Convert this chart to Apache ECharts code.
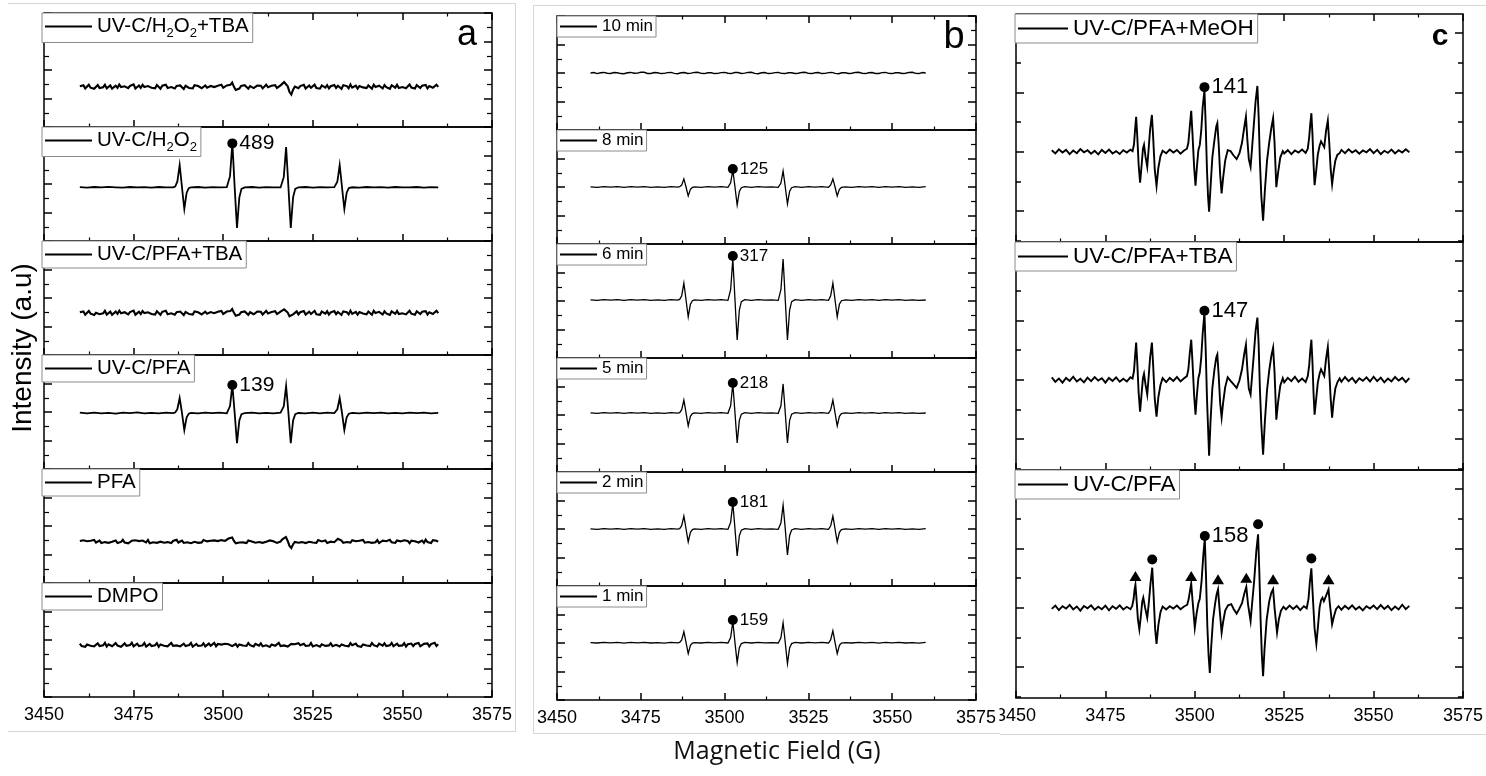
<!DOCTYPE html>
<html><head><meta charset="utf-8">
<script src="https://cdn.jsdelivr.net/npm/echarts@6/dist/echarts.min.js"></script>
<style>html,body{margin:0;padding:0;background:#fff}#chart{width:1486px;height:776px}</style>
</head><body><div id="chart"></div>
<script>
// ---------- tick labels / names ----------
const FIELD_TICKS = [3450, 3475, 3500, 3525, 3550, 3575];
const labelsA = ['UV-C/H_2O_2+TBA', 'UV-C/H_2O_2', 'UV-C/PFA+TBA', 'UV-C/PFA', 'PFA', 'DMPO'];
const labelsB = ['10 min', '8 min', '6 min', '5 min', '2 min', '1 min'];
const labelsC = ['UV-C/PFA+MeOH', 'UV-C/PFA+TBA', 'UV-C/PFA'];
const panelLetters = ['a', 'b', 'c'];
const xTitle = 'Magnetic Field (G)';
const yTitle = 'Intensity (a.u)';

// ---------- sweep fields (G) of the noisy traces (0.5 G steps) ----------
const sweepField = [3460,3460.5,3461,3461.5,3462,3462.5,3463,3463.5,3464,3464.5,3465,3465.5,3466,3466.5,3467,3467.5,3468,3468.5,3469,3469.5,
3470,3470.5,3471,3471.5,3472,3472.5,3473,3473.5,3474,3474.5,3475,3475.5,3476,3476.5,3477,3477.5,3478,3478.5,3479,3479.5,
3480,3480.5,3481,3481.5,3482,3482.5,3483,3483.5,3484,3484.5,3485,3485.5,3486,3486.5,3487,3487.5,3488,3488.5,3489,3489.5,
3490,3490.5,3491,3491.5,3492,3492.5,3493,3493.5,3494,3494.5,3495,3495.5,3496,3496.5,3497,3497.5,3498,3498.5,3499,3499.5,
3500,3500.5,3501,3501.5,3502,3502.5,3503,3503.5,3504,3504.5,3505,3505.5,3506,3506.5,3507,3507.5,3508,3508.5,3509,3509.5,
3510,3510.5,3511,3511.5,3512,3512.5,3513,3513.5,3514,3514.5,3515,3515.5,3516,3516.5,3517,3517.5,3518,3518.5,3519,3519.5,
3520,3520.5,3521,3521.5,3522,3522.5,3523,3523.5,3524,3524.5,3525,3525.5,3526,3526.5,3527,3527.5,3528,3528.5,3529,3529.5,
3530,3530.5,3531,3531.5,3532,3532.5,3533,3533.5,3534,3534.5,3535,3535.5,3536,3536.5,3537,3537.5,3538,3538.5,3539,3539.5,
3540,3540.5,3541,3541.5,3542,3542.5,3543,3543.5,3544,3544.5,3545,3545.5,3546,3546.5,3547,3547.5,3548,3548.5,3549,3549.5,
3550,3550.5,3551,3551.5,3552,3552.5,3553,3553.5,3554,3554.5,3555,3555.5,3556,3556.5,3557,3557.5,3558,3558.5,3559,3559.5,3560];

// ---------- noisy traces: intensity at each sweepField value ----------
const intensA1 = [2.86,2.74,2.93,2.7,2.84,2.97,2.76,2.89,2.68,2.82,2.95,2.73,2.87,2.79,2.96,2.71,2.85,2.92,2.69,2.83,
2.9,2.75,2.98,2.8,2.67,2.86,2.94,2.72,2.88,2.77,2.99,2.7,2.84,2.91,2.74,2.96,2.81,2.69,2.87,2.93,
2.76,2.85,2.72,2.95,2.83,2.68,2.9,2.78,2.97,2.73,2.86,2.8,2.94,2.7,2.88,2.75,2.92,2.82,2.67,2.89,
2.96,2.74,2.85,2.71,2.93,2.79,2.87,2.98,2.72,2.84,2.91,2.76,2.69,2.88,2.95,2.8,2.73,2.9,2.83,2.97,
2.75,2.86,2.92,2.78,2.96,3.12,2.82,2.6,2.46,2.7,2.88,2.74,2.93,2.8,2.69,2.87,2.95,2.73,2.84,2.91,
2.77,2.9,2.71,2.85,2.97,2.79,2.68,2.89,2.82,2.94,2.74,2.86,2.92,3.0,3.15,3.18,2.85,2.45,2.28,2.62,
2.84,2.93,2.72,2.87,2.78,2.96,2.7,2.83,2.91,2.75,2.88,2.97,2.73,2.81,2.69,2.92,2.85,2.77,2.94,2.71,
2.86,2.79,2.95,2.74,2.89,2.82,2.68,2.93,2.8,2.87,2.72,2.98,2.76,2.84,2.9,2.7,2.88,2.95,2.78,2.83,
2.73,2.92,2.86,2.69,2.97,2.81,2.75,2.9,2.84,2.71,2.94,2.79,2.87,2.68,2.93,2.82,2.76,2.96,2.74,2.88,
2.8,2.91,2.72,2.86,2.98,2.77,2.85,2.7,2.94,2.83,2.74,2.9,2.79,2.95,2.71,2.87,2.92,2.75,2.84,2.97,2.82];
const intensA3 = [3.0,2.87,3.06,2.83,2.97,3.09,2.9,3.02,2.81,2.96,3.07,2.86,2.99,2.92,3.1,2.84,2.98,3.04,2.82,2.95,
3.05,2.89,3.11,2.93,2.8,3.0,3.08,2.85,3.01,2.9,3.12,2.83,2.97,3.04,2.87,3.09,2.94,2.81,3.0,3.06,
2.88,2.99,2.84,3.07,2.96,2.82,3.03,2.91,3.1,2.86,2.98,2.93,3.06,2.83,3.01,2.88,3.05,2.95,2.8,3.02,
3.08,2.87,2.97,2.84,3.06,2.92,3.0,3.11,2.85,2.96,3.04,2.89,2.82,3.01,3.07,2.93,2.86,3.03,2.96,3.09,
2.88,2.99,3.05,2.91,3.08,3.23,2.96,2.75,2.67,2.84,3.0,2.87,3.06,2.93,2.82,3.0,3.08,2.86,2.97,3.04,
2.9,3.03,2.84,2.98,3.1,2.92,2.81,3.02,2.95,3.07,2.87,2.99,3.05,3.1,3.2,3.22,2.98,2.72,2.62,2.85,
2.97,3.06,2.85,3.0,2.91,3.09,2.83,2.96,3.04,2.88,3.01,3.1,2.86,2.94,2.82,3.05,2.98,2.9,3.07,2.84,
2.99,2.92,3.08,2.87,3.02,2.95,2.81,3.06,2.93,3.0,2.85,3.11,2.89,2.97,3.03,2.83,3.01,3.08,2.91,2.96,
2.86,3.05,2.99,2.82,3.1,2.94,2.88,3.03,2.97,2.84,3.07,2.92,3.0,2.81,3.06,2.95,2.89,3.09,2.87,3.01,
2.93,3.04,2.85,2.99,3.11,2.9,2.98,2.83,3.07,2.96,2.87,3.03,2.92,3.08,2.84,3.0,3.05,2.88,2.97,3.1,2.94];
const intensA5 = [2.95,2.83,3.0,2.86,2.93,2.79,2.97,2.88,3.02,2.84,2.91,2.98,2.81,2.94,2.87,3.01,2.82,2.96,2.9,2.85,
2.99,2.8,2.93,2.88,3.03,2.84,2.95,2.78,2.92,2.97,2.83,3.0,2.87,2.94,2.81,2.98,2.89,2.85,3.02,2.79,
2.93,2.86,2.99,2.82,2.96,2.9,3.01,2.83,2.92,2.87,2.98,2.8,2.95,2.88,3.03,2.84,2.91,2.97,2.81,2.94,
2.86,3.0,2.79,2.93,2.89,2.98,2.82,2.96,2.85,3.02,2.88,2.92,2.8,2.97,2.84,2.99,2.87,2.94,2.83,3.01,
2.89,2.95,3.05,3.12,3.18,3.2,2.95,2.78,2.74,2.84,2.97,2.85,2.93,2.8,2.98,2.87,2.92,3.0,2.83,2.95,
2.88,3.01,2.82,2.96,2.9,2.84,2.99,2.86,2.93,3.02,2.81,2.95,2.91,3.06,3.15,3.23,2.95,2.6,2.45,2.72,
2.88,2.97,2.83,2.94,2.87,3.0,2.8,2.93,2.89,2.98,2.84,2.96,2.82,3.01,2.88,2.92,2.85,2.99,2.81,2.95,
2.9,3.03,2.86,2.94,3.1,3.2,2.98,2.82,2.78,2.88,2.97,2.84,3.0,2.87,2.93,2.81,2.96,2.9,3.02,2.83,
2.94,2.88,2.99,2.82,2.95,2.86,3.01,2.8,2.92,2.97,2.84,2.93,2.89,3.03,2.85,2.96,2.81,2.98,2.87,2.92,
2.83,3.0,2.88,2.95,2.79,2.97,2.86,2.93,3.02,2.84,2.91,2.98,2.82,3.04,2.87,2.94,2.81,3.0,2.89,2.96,2.9];
const intensA6 = [3.74,3.57,3.7,3.52,3.68,3.79,3.6,3.73,3.55,3.66,3.77,3.58,3.71,3.63,3.8,3.54,3.69,3.75,3.56,3.67,
3.78,3.61,3.72,3.53,3.66,3.76,3.59,3.7,3.64,3.81,3.55,3.68,3.74,3.57,3.71,3.62,3.79,3.54,3.67,3.73,
3.58,3.7,3.63,3.78,3.52,3.69,3.75,3.6,3.72,3.56,3.67,3.8,3.59,3.71,3.62,3.76,3.55,3.68,3.74,3.57,
3.7,3.64,3.79,3.53,3.67,3.73,3.58,3.71,3.61,3.77,3.55,3.69,3.75,3.6,3.66,3.8,3.56,3.72,3.63,3.68,
3.54,3.74,3.6,3.7,3.78,3.57,3.66,3.72,3.53,3.69,3.76,3.61,3.68,3.58,3.79,3.64,3.71,3.55,3.73,3.67,
3.6,3.77,3.56,3.7,3.63,3.75,3.52,3.69,3.74,3.59,3.66,3.8,3.57,3.71,3.62,3.76,3.54,3.68,3.73,3.6,
3.7,3.56,3.78,3.63,3.67,3.74,3.58,3.72,3.61,3.79,3.55,3.69,3.64,3.76,3.53,3.7,3.75,3.59,3.68,3.62,
3.77,3.57,3.71,3.66,3.8,3.54,3.69,3.73,3.6,3.72,3.56,3.78,3.63,3.67,3.75,3.58,3.71,3.52,3.69,3.76,
3.61,3.68,3.57,3.79,3.64,3.7,3.55,3.74,3.66,3.6,3.77,3.58,3.72,3.63,3.8,3.56,3.69,3.74,3.59,3.71,
3.62,3.78,3.54,3.7,3.67,3.75,3.57,3.72,3.61,3.79,3.56,3.68,3.73,3.6,3.76,3.55,3.71,3.66,3.8,3.58,3.7];

// ---------- spectra with resolved lines: [field (G), intensity] ----------
const specA2 = [[3460,3.78],[3462,3.75],[3464,3.79],[3466,3.76],[3468,3.8],[3470,3.77],[3472,3.74],[3474,3.79],[3476,3.76],[3478,3.78],[3480,3.75],[3482,3.79],[3484,3.77],[3486,3.76],[3486.6,3.82],[3487.2,4.16],[3487.55,4.78],[3487.85,5.33],[3488.15,4.63],[3488.5,3.77],[3488.85,2.93],[3489.15,2.25],[3489.45,2.78],[3489.8,3.39],[3490.4,3.71],[3491,3.76],[3493,3.79],[3495,3.75],[3497,3.78],[3499,3.76],[3501,3.78],[3501.3,3.86],[3501.9,4.55],[3502.25,5.79],[3502.55,6.88],[3502.85,5.48],[3503.2,3.77],[3503.55,2.2],[3503.85,0.91],[3504.15,1.91],[3504.5,3.06],[3505.1,3.66],[3506,3.76],[3508,3.79],[3510,3.75],[3512,3.78],[3514,3.77],[3516,3.76],[3516.3,3.85],[3516.9,4.48],[3517.25,5.61],[3517.55,6.6],[3517.85,5.33],[3518.2,3.77],[3518.55,2.2],[3518.85,0.91],[3519.15,1.91],[3519.5,3.06],[3520.1,3.66],[3521,3.77],[3523,3.79],[3525,3.75],[3527,3.78],[3529,3.76],[3531,3.78],[3531.25,3.82],[3531.85,4.16],[3532.2,4.78],[3532.5,5.33],[3532.8,4.63],[3533.15,3.77],[3533.5,2.93],[3533.8,2.25],[3534.1,2.78],[3534.45,3.39],[3535.05,3.71],[3536,3.77],[3538,3.75],[3540,3.79],[3542,3.76],[3544,3.78],[3546,3.75],[3548,3.79],[3550,3.77],[3552,3.76],[3554,3.79],[3556,3.75],[3558,3.78],[3560,3.76]];
const specA4 = [[3460,3.95],[3462,3.9],[3464,3.96],[3466,3.91],[3468,3.94],[3470,3.89],[3472,3.95],[3474,3.92],[3476,3.97],[3478,3.9],[3480,3.94],[3482,3.91],[3484,3.96],[3486,3.92],[3486.6,3.96],[3487.2,4.19],[3487.55,4.61],[3487.85,4.98],[3488.15,4.51],[3488.5,3.93],[3488.85,3.28],[3489.15,2.74],[3489.45,3.16],[3489.8,3.63],[3490.4,3.88],[3491,3.94],[3493,3.9],[3495,3.95],[3497,3.92],[3499,3.96],[3501,3.91],[3501.3,3.99],[3501.9,4.42],[3502.25,5.2],[3502.55,5.89],[3502.85,5.0],[3503.2,3.93],[3503.55,2.77],[3503.85,1.82],[3504.15,2.56],[3504.5,3.4],[3505.1,3.85],[3506,3.92],[3508,3.96],[3510,3.9],[3512,3.94],[3514,3.91],[3516,3.95],[3516.3,3.99],[3516.9,4.4],[3517.25,5.16],[3517.55,5.82],[3517.85,4.97],[3518.2,3.93],[3518.55,2.77],[3518.85,1.82],[3519.15,2.56],[3519.5,3.4],[3520.1,3.85],[3521,3.93],[3523,3.9],[3525,3.95],[3527,3.91],[3529,3.96],[3531,3.92],[3531.25,3.96],[3531.85,4.19],[3532.2,4.61],[3532.5,4.98],[3532.8,4.51],[3533.15,3.93],[3533.5,3.28],[3533.8,2.74],[3534.1,3.16],[3534.45,3.63],[3535.05,3.88],[3536,3.94],[3538,3.9],[3540,3.95],[3542,3.92],[3544,3.96],[3546,3.91],[3548,3.94],[3550,3.9],[3552,3.95],[3554,3.92],[3556,3.96],[3558,3.91],[3560,3.94]];

const specB1 = [[3460,4.0],[3461,4.03],[3462,3.96],[3463,4.02],[3464,4.04],[3465,3.98],[3466,3.97],[3467,4.03],[3468,4.02],[3469,3.96],[3470,3.95],[3471,4.02],[3472,4.04],[3473,3.98],[3474,3.99],[3475,4.05],[3476,4.05],[3477,3.97],[3478,3.97],[3479,4.03],[3480,4.02],[3481,3.96],[3482,3.97],[3483,4.03],[3484,4.04],[3485,3.97],[3486,3.95],[3487,4.02],[3488,4.03],[3489,3.97],[3490,3.99],[3491,4.04],[3492,4.05],[3493,3.97],[3494,3.96],[3495,4.02],[3496,4.02],[3497,3.96],[3498,3.97],[3499,4.03],[3500,4.04],[3501,3.98],[3502,3.96],[3503,4.03],[3504,4.03],[3505,3.97],[3506,3.99],[3507,4.04],[3508,4.05],[3509,3.97],[3510,3.95],[3511,4.02],[3512,4.03],[3513,3.96],[3514,3.97],[3515,4.03],[3516,4.04],[3517,3.97],[3518,3.96],[3519,4.02],[3520,4.02],[3521,3.97],[3522,3.98],[3523,4.04],[3524,4.05],[3525,3.97],[3526,3.96],[3527,4.02],[3528,4.03],[3529,3.96],[3530,3.97],[3531,4.03],[3532,4.04],[3533,3.97],[3534,3.95],[3535,4.02],[3536,4.02],[3537,3.97],[3538,3.98],[3539,4.04],[3540,4.05],[3541,3.98],[3542,3.96],[3543,4.02],[3544,4.03],[3545,3.97],[3546,3.97],[3547,4.03],[3548,4.04],[3549,3.97],[3550,3.96],[3551,4.02],[3552,4.02],[3553,3.97],[3554,3.98],[3555,4.04],[3556,4.05],[3557,3.97],[3558,3.96],[3559,4.03],[3560,4.0]];
const specB2 = [[3460,4.01],[3462,3.98],[3464,4.03],[3466,3.99],[3468,4.02],[3470,3.97],[3472,4.02],[3474,3.99],[3476,4.03],[3478,3.98],[3480,4.01],[3482,3.97],[3484,4.02],[3486,3.99],[3486.6,4.02],[3487.2,4.14],[3487.55,4.36],[3487.85,4.56],[3488.15,4.31],[3488.5,4.0],[3488.85,3.65],[3489.15,3.37],[3489.45,3.59],[3489.8,3.84],[3490.4,3.97],[3491,4.01],[3493,3.98],[3495,4.03],[3497,3.99],[3499,4.02],[3501,3.98],[3501.2,4.04],[3501.8,4.3],[3502.15,4.77],[3502.45,5.19],[3502.75,4.65],[3503.1,4.0],[3503.45,3.31],[3503.75,2.74],[3504.05,3.18],[3504.4,3.69],[3505.0,3.95],[3506,4.02],[3508,3.98],[3510,4.03],[3512,3.99],[3514,4.01],[3516,3.98],[3516.2,4.03],[3516.8,4.28],[3517.15,4.73],[3517.45,5.12],[3517.75,4.62],[3518.1,4.0],[3518.45,3.35],[3518.75,2.81],[3519.05,3.23],[3519.4,3.7],[3520.0,3.95],[3521,4.02],[3523,3.98],[3525,4.03],[3527,3.99],[3529,4.02],[3531,3.98],[3531.05,4.02],[3531.65,4.14],[3532.0,4.36],[3532.3,4.56],[3532.6,4.31],[3532.95,4.0],[3533.3,3.65],[3533.6,3.37],[3533.9,3.59],[3534.25,3.84],[3534.85,3.97],[3536,4.01],[3538,3.98],[3540,4.03],[3542,3.99],[3544,4.02],[3546,3.97],[3548,4.02],[3550,3.99],[3552,4.03],[3554,3.98],[3556,4.01],[3558,3.97],[3560,4.02]];
const specB3 = [[3460,4.08],[3462,4.05],[3464,4.1],[3466,4.06],[3468,4.09],[3470,4.04],[3472,4.09],[3474,4.06],[3476,4.1],[3478,4.05],[3480,4.08],[3482,4.04],[3484,4.09],[3486,4.06],[3486.6,4.11],[3487.2,4.37],[3487.55,4.84],[3487.85,5.26],[3488.15,4.72],[3488.5,4.07],[3488.85,3.42],[3489.15,2.88],[3489.45,3.3],[3489.8,3.77],[3490.4,4.02],[3491,4.08],[3493,4.05],[3495,4.1],[3497,4.06],[3499,4.09],[3501,4.05],[3501.2,4.16],[3501.8,4.79],[3502.15,5.94],[3502.45,6.95],[3502.75,5.65],[3503.1,4.07],[3503.45,2.52],[3503.75,1.26],[3504.05,2.24],[3504.4,3.37],[3505.0,3.96],[3506,4.09],[3508,4.05],[3510,4.1],[3512,4.06],[3514,4.08],[3516,4.05],[3516.2,4.16],[3516.8,4.79],[3517.15,5.94],[3517.45,6.95],[3517.75,5.65],[3518.1,4.07],[3518.45,2.52],[3518.75,1.26],[3519.05,2.24],[3519.4,3.37],[3520.0,3.96],[3521,4.09],[3523,4.05],[3525,4.1],[3527,4.06],[3529,4.09],[3531,4.05],[3531.05,4.11],[3531.65,4.37],[3532.0,4.84],[3532.3,5.26],[3532.6,4.72],[3532.95,4.07],[3533.3,3.42],[3533.6,2.88],[3533.9,3.3],[3534.25,3.77],[3534.85,4.02],[3536,4.08],[3538,4.05],[3540,4.1],[3542,4.06],[3544,4.09],[3546,4.04],[3548,4.09],[3550,4.06],[3552,4.1],[3554,4.05],[3556,4.08],[3558,4.04],[3560,4.07]];
const specB4 = [[3460,4.15],[3462,4.12],[3464,4.17],[3466,4.13],[3468,4.16],[3470,4.11],[3472,4.16],[3474,4.13],[3476,4.17],[3478,4.12],[3480,4.15],[3482,4.11],[3484,4.16],[3486,4.13],[3486.6,4.17],[3487.2,4.37],[3487.55,4.73],[3487.85,5.05],[3488.15,4.64],[3488.5,4.14],[3488.85,3.64],[3489.15,3.23],[3489.45,3.55],[3489.8,3.91],[3490.4,4.1],[3491,4.15],[3493,4.12],[3495,4.17],[3497,4.13],[3499,4.16],[3501,4.12],[3501.2,4.2],[3501.8,4.65],[3502.15,5.47],[3502.45,6.18],[3502.75,5.26],[3503.1,4.14],[3503.45,2.99],[3503.75,2.04],[3504.05,2.78],[3504.4,3.62],[3505.0,4.06],[3506,4.16],[3508,4.12],[3510,4.17],[3512,4.13],[3514,4.15],[3516,4.12],[3516.2,4.2],[3516.8,4.65],[3517.15,5.47],[3517.45,6.18],[3517.75,5.26],[3518.1,4.14],[3518.45,2.99],[3518.75,2.04],[3519.05,2.78],[3519.4,3.62],[3520.0,4.06],[3521,4.16],[3523,4.12],[3525,4.17],[3527,4.13],[3529,4.16],[3531,4.12],[3531.05,4.17],[3531.65,4.37],[3532.0,4.73],[3532.3,5.05],[3532.6,4.64],[3532.95,4.14],[3533.3,3.64],[3533.6,3.23],[3533.9,3.55],[3534.25,3.91],[3534.85,4.1],[3536,4.15],[3538,4.12],[3540,4.17],[3542,4.13],[3544,4.16],[3546,4.11],[3548,4.16],[3550,4.13],[3552,4.17],[3554,4.12],[3556,4.15],[3558,4.11],[3560,4.14]];
const specB5 = [[3460,4.01],[3462,3.98],[3464,4.03],[3466,3.99],[3468,4.02],[3470,3.97],[3472,4.02],[3474,3.99],[3476,4.03],[3478,3.98],[3480,4.01],[3482,3.97],[3484,4.02],[3486,3.99],[3486.6,4.03],[3487.2,4.23],[3487.55,4.59],[3487.85,4.91],[3488.15,4.5],[3488.5,4.0],[3488.85,3.5],[3489.15,3.09],[3489.45,3.41],[3489.8,3.77],[3490.4,3.96],[3491,4.01],[3493,3.98],[3495,4.03],[3497,3.99],[3499,4.02],[3501,3.98],[3501.2,4.05],[3501.8,4.46],[3502.15,5.18],[3502.45,5.82],[3502.75,5.0],[3503.1,4.0],[3503.45,2.96],[3503.75,2.11],[3504.05,2.77],[3504.4,3.53],[3505.0,3.92],[3506,4.02],[3508,3.98],[3510,4.03],[3512,3.99],[3514,4.01],[3516,3.98],[3516.2,4.05],[3516.8,4.42],[3517.15,5.09],[3517.45,5.68],[3517.75,4.92],[3518.1,4.0],[3518.45,3.0],[3518.75,2.18],[3519.05,2.82],[3519.4,3.55],[3520.0,3.93],[3521,4.02],[3523,3.98],[3525,4.03],[3527,3.99],[3529,4.02],[3531,3.98],[3531.05,4.03],[3531.65,4.23],[3532.0,4.59],[3532.3,4.91],[3532.6,4.5],[3532.95,4.0],[3533.3,3.5],[3533.6,3.09],[3533.9,3.41],[3534.25,3.77],[3534.85,3.96],[3536,4.01],[3538,3.98],[3540,4.03],[3542,3.99],[3544,4.02],[3546,3.97],[3548,4.02],[3550,3.99],[3552,4.03],[3554,3.98],[3556,4.01],[3558,3.97],[3560,4.02]];
const specB6 = [[3460,4.03],[3462,4.0],[3464,4.05],[3466,4.01],[3468,4.04],[3470,3.99],[3472,4.04],[3474,4.01],[3476,4.05],[3478,4.0],[3480,4.03],[3482,3.99],[3484,4.04],[3486,4.01],[3486.6,4.04],[3487.2,4.21],[3487.55,4.52],[3487.85,4.79],[3488.15,4.44],[3488.5,4.02],[3488.85,3.6],[3489.15,3.25],[3489.45,3.52],[3489.8,3.83],[3490.4,3.99],[3491,4.03],[3493,4.0],[3495,4.05],[3497,4.01],[3499,4.04],[3501,4.0],[3501.2,4.06],[3501.8,4.39],[3502.15,4.98],[3502.45,5.49],[3502.75,4.83],[3503.1,4.02],[3503.45,3.25],[3503.75,2.62],[3504.05,3.11],[3504.4,3.67],[3505.0,3.96],[3506,4.04],[3508,4.0],[3510,4.05],[3512,4.01],[3514,4.03],[3516,4.0],[3516.2,4.06],[3516.8,4.37],[3517.15,4.93],[3517.45,5.42],[3517.75,4.79],[3518.1,4.02],[3518.45,3.21],[3518.75,2.55],[3519.05,3.06],[3519.4,3.65],[3520.0,3.96],[3521,4.04],[3523,4.0],[3525,4.05],[3527,4.01],[3529,4.04],[3531,4.0],[3531.05,4.05],[3531.65,4.23],[3532.0,4.57],[3532.3,4.86],[3532.6,4.48],[3532.95,4.02],[3533.3,3.6],[3533.6,3.25],[3533.9,3.52],[3534.25,3.83],[3534.85,3.99],[3536,4.03],[3538,4.0],[3540,4.05],[3542,4.01],[3544,4.04],[3546,3.99],[3548,4.04],[3550,4.01],[3552,4.05],[3554,4.0],[3556,4.03],[3558,3.99],[3560,4.04]];

const specC1 = [[3460,0.05],[3461,-0.06],[3462,0.08],[3463,-0.03],[3464,0.06],[3465,-0.08],[3466,0.04],[3467,-0.05],[3468,0.09],[3469,-0.02],[3470,0.05],[3471,-0.07],[3472,0.03],[3473,-0.09],[3474,0.06],[3475,-0.04],[3476,0.07],[3477,-0.06],[3478,0.02],[3479,-0.08],[3480,0.05],[3481,-0.03],[3482,0.07],[3482.6,0.02],[3483.0,0.25],[3483.3,0.75],[3483.6,1.18],[3483.9,0.55],[3484.3,-0.45],[3484.7,-1.05],[3485.1,-0.5],[3485.5,0.1],[3485.8,0.23],[3486.2,-0.15],[3486.7,-0.51],[3487.1,0.1],[3487.5,0.75],[3488.0,1.24],[3488.35,0.5],[3488.8,-0.6],[3489.3,-1.16],[3489.8,-0.55],[3490.4,-0.15],[3491.0,0.03],[3492,-0.05],[3493,0.07],[3494,-0.03],[3495,0.06],[3496,-0.07],[3497,0.04],[3497.8,0.1],[3498.2,0.3],[3498.6,0.85],[3499.0,1.38],[3499.35,0.6],[3499.8,-0.5],[3500.2,-1.15],[3500.6,-0.5],[3501.0,0.05],[3501.4,0.23],[3501.8,0.7],[3502.2,1.5],[3502.7,2.08],[3503.05,0.9],[3503.4,-0.6],[3503.7,-1.5],[3504.0,-2.03],[3504.4,-1.2],[3504.9,-0.2],[3505.5,0.4],[3506.0,0.85],[3506.3,0.96],[3506.7,0.2],[3507.1,-0.8],[3507.5,-1.41],[3507.9,-0.9],[3508.5,-0.3],[3509.2,0.05],[3510,0.02],[3510.8,-0.12],[3511.7,-0.25],[3512.5,-0.05],[3513.2,0.3],[3513.8,0.8],[3514.3,1.18],[3514.7,0.4],[3515.1,-0.25],[3515.6,-0.51],[3516.0,0.1],[3516.5,0.9],[3517.0,1.7],[3517.5,2.22],[3517.85,1.2],[3518.2,-0.3],[3518.6,-1.5],[3519.1,-2.33],[3519.6,-1.3],[3520.2,-0.3],[3520.8,0.3],[3521.4,0.8],[3521.9,1.13],[3522.3,0.3],[3522.8,-1.2],[3523.3,-0.7],[3523.9,-0.2],[3524.6,0.02],[3525,-0.06],[3526,0.05],[3527,-0.08],[3528,0.04],[3529,-0.03],[3530,0.07],[3531,-0.04],[3531.6,0.1],[3532.0,0.5],[3532.3,0.95],[3532.6,1.3],[3532.9,0.6],[3533.2,-0.4],[3533.5,-1.13],[3533.9,-0.7],[3534.4,-0.1],[3534.9,0.2],[3535.3,0.35],[3535.7,0.4],[3536.2,0.15],[3536.7,0.7],[3537.2,1.05],[3537.6,0.3],[3538.0,-0.6],[3538.4,-1.1],[3538.8,-0.7],[3539.3,-0.3],[3539.9,-0.1],[3540.5,-0.05],[3541,0.06],[3542,-0.05],[3543,0.08],[3544,-0.03],[3545,0.05],[3546,-0.07],[3547,0.04],[3548,-0.02],[3549,0.09],[3550,-0.05],[3551,0.06],[3552,-0.08],[3553,0.03],[3554,-0.04],[3555,0.07],[3556,-0.06],[3557,0.05],[3558,-0.03],[3559,0.08],[3560,-0.02]];
const specC2 = [[3460,0.08],[3461,-0.07],[3462,0.04],[3463,-0.1],[3464,0.06],[3465,-0.04],[3466,0.1],[3467,-0.06],[3468,0.03],[3469,-0.09],[3470,0.07],[3471,-0.05],[3472,0.09],[3473,-0.03],[3474,0.05],[3475,-0.1],[3476,0.06],[3477,-0.04],[3478,0.08],[3479,-0.07],[3480,0.03],[3481,-0.06],[3482,0.08],[3482.6,0.04],[3483.0,0.3],[3483.3,0.8],[3483.6,1.25],[3483.9,0.6],[3484.3,-0.45],[3484.7,-1.08],[3485.1,-0.5],[3485.5,0.05],[3485.8,0.2],[3486.2,-0.15],[3486.7,-0.5],[3487.1,0.1],[3487.5,0.75],[3488.0,1.25],[3488.35,0.5],[3488.8,-0.65],[3489.3,-1.25],[3489.8,-0.6],[3490.4,-0.18],[3491.0,0.05],[3492,-0.08],[3493,0.06],[3494,-0.04],[3495,0.09],[3496,-0.06],[3497,0.05],[3497.8,0.12],[3498.2,0.35],[3498.6,0.9],[3499.0,1.35],[3499.35,0.6],[3499.8,-0.5],[3500.2,-1.18],[3500.6,-0.5],[3501.0,0.05],[3501.4,0.25],[3501.8,0.75],[3502.2,1.55],[3502.7,2.26],[3503.05,1.0],[3503.4,-0.6],[3503.7,-1.6],[3504.0,-2.57],[3504.4,-1.4],[3504.9,-0.3],[3505.5,0.35],[3506.0,0.75],[3506.3,0.85],[3506.7,0.1],[3507.1,-0.8],[3507.5,-1.28],[3507.9,-0.8],[3508.5,-0.25],[3509.2,0.08],[3510,-0.04],[3510.8,-0.15],[3511.7,-0.28],[3512.5,-0.02],[3513.2,0.35],[3513.8,0.85],[3514.3,1.18],[3514.7,0.35],[3515.1,-0.3],[3515.6,-0.5],[3516.0,0.1],[3516.5,0.85],[3517.0,1.65],[3517.5,2.1],[3517.85,1.2],[3518.2,-0.3],[3518.6,-1.5],[3519.1,-2.53],[3519.6,-1.4],[3520.2,-0.35],[3520.8,0.3],[3521.4,0.8],[3521.9,1.08],[3522.3,0.25],[3522.8,-1.35],[3523.3,-0.75],[3523.9,-0.2],[3524.6,0.05],[3525,-0.09],[3526,0.06],[3527,-0.05],[3528,0.1],[3529,-0.07],[3530,0.04],[3531,-0.08],[3531.6,0.12],[3532.0,0.5],[3532.3,1.0],[3532.6,1.35],[3532.9,0.6],[3533.2,-0.45],[3533.5,-1.18],[3533.9,-0.7],[3534.4,-0.1],[3534.9,0.2],[3535.3,0.35],[3535.7,0.38],[3536.2,0.12],[3536.7,0.7],[3537.2,1.1],[3537.6,0.3],[3538.0,-0.65],[3538.4,-1.28],[3538.8,-0.75],[3539.3,-0.3],[3539.9,-0.08],[3540.5,0.04],[3541,-0.07],[3542,0.09],[3543,-0.05],[3544,0.06],[3545,-0.1],[3546,0.05],[3547,-0.04],[3548,0.08],[3549,-0.06],[3550,0.1],[3551,-0.05],[3552,0.07],[3553,-0.09],[3554,0.04],[3555,-0.06],[3556,0.09],[3557,-0.03],[3558,0.06],[3559,-0.08],[3560,0.05]];
const specC3 = [[3460,-0.04],[3461,0.07],[3462,-0.08],[3463,0.05],[3464,-0.03],[3465,0.09],[3466,-0.06],[3467,0.04],[3468,-0.1],[3469,0.06],[3470,-0.02],[3471,0.08],[3472,-0.07],[3473,0.03],[3474,-0.05],[3475,0.07],[3476,-0.09],[3477,0.05],[3478,-0.04],[3479,0.08],[3480,-0.06],[3481,0.03],[3482,-0.05],[3482.5,0.06],[3482.9,0.3],[3483.15,0.6],[3483.4,0.77],[3483.7,0.3],[3484.1,-0.4],[3484.5,-0.73],[3484.9,-0.3],[3485.3,0.2],[3485.6,0.34],[3486.1,0.0],[3486.7,-0.34],[3487.1,0.1],[3487.6,0.8],[3488.1,1.35],[3488.45,0.5],[3488.9,-0.7],[3489.3,-1.22],[3489.8,-0.6],[3490.4,-0.15],[3491.0,0.04],[3492,-0.06],[3493,0.05],[3494,-0.03],[3495,0.07],[3496,-0.05],[3497,0.04],[3497.9,0.1],[3498.3,0.3],[3498.7,0.6],[3499.0,0.81],[3499.4,0.2],[3500.0,-0.68],[3500.5,-0.2],[3501.0,0.15],[3501.4,0.3],[3501.9,0.9],[3502.4,1.8],[3502.8,2.34],[3503.15,1.0],[3503.5,-0.6],[3503.85,-1.6],[3504.2,-2.2],[3504.6,-1.3],[3505.1,-0.4],[3505.7,0.15],[3506.1,0.45],[3506.5,0.62],[3506.9,0.0],[3507.5,-0.84],[3507.9,-0.5],[3508.5,-0.1],[3509.3,0.08],[3510.2,0.12],[3510.9,-0.05],[3511.7,-0.2],[3512.4,-0.05],[3513.2,0.15],[3513.9,0.5],[3514.4,0.7],[3514.9,0.1],[3515.6,-0.45],[3516.0,0.1],[3516.6,0.9],[3517.2,1.9],[3517.7,2.48],[3518.05,1.2],[3518.4,-0.4],[3518.75,-1.6],[3519.1,-2.31],[3519.5,-1.4],[3520.1,-0.4],[3520.8,0.2],[3521.4,0.5],[3521.9,0.62],[3522.3,0.0],[3523.0,-0.84],[3523.5,-0.4],[3524.1,-0.1],[3524.8,0.03],[3525.5,-0.06],[3526.5,0.07],[3527.5,-0.04],[3528.5,0.06],[3529.5,-0.08],[3530.5,0.05],[3531.3,-0.02],[3531.8,0.3],[3532.2,0.9],[3532.6,1.33],[3532.95,0.5],[3533.5,-0.7],[3534.0,-1.22],[3534.4,-0.7],[3534.9,0.0],[3535.3,0.25],[3535.7,0.34],[3536.1,0.22],[3536.7,0.4],[3537.4,0.62],[3537.8,0.1],[3538.4,-0.56],[3538.9,-0.3],[3539.5,-0.05],[3540.2,0.05],[3541,-0.07],[3542,0.06],[3543,-0.04],[3544,0.08],[3545,-0.06],[3546,0.03],[3547,-0.09],[3548,0.05],[3549,-0.03],[3550,0.07],[3551,-0.05],[3552,0.09],[3553,-0.04],[3554,0.06],[3555,-0.08],[3556,0.04],[3557,-0.06],[3558,0.1],[3559,-0.05],[3560,0.06]];

// ---------- peak markers: [field, intensity, label] ----------
const dotsA2 = [[3502.55, 6.85, '489']];
const dotsA4 = [[3502.55, 5.89, '139']];
const dotsB2 = [[3502.45, 5.26, '125']];
const dotsB3 = [[3502.45, 7.16, '317']];
const dotsB4 = [[3502.45, 6.25, '218']];
const dotsB5 = [[3502.45, 5.89, '181']];
const dotsB6 = [[3502.45, 5.61, '159']];
const dotsC1 = [[3502.7, 2.18, '141']];
const dotsC2 = [[3502.7, 2.33, '147']];
const dotsC3 = [[3488.1, 1.63, ''], [3502.8, 2.42, '158'], [3517.7, 2.82, ''], [3532.6, 1.66, '']];
const trianglesC3 = [[3483.4, 1.07], [3499.0, 1.07], [3506.5, 0.96], [3514.4, 1.01], [3521.9, 0.96], [3537.4, 0.96]];

// ---------- build ----------
const pairUp = ys => sweepField.map((f, k) => [f, ys[k]]);
const specA1 = pairUp(intensA1), specA3 = pairUp(intensA3), specA5 = pairUp(intensA5), specA6 = pairUp(intensA6);

const FONT = '"Liberation Sans", Arial, Helvetica, sans-serif';
const panels = [
  { spectra: [specA1, specA2, specA3, specA4, specA5, specA6], labels: labelsA,
    dots: [null, dotsA2, null, dotsA4, null, null], tris: [],
    lw: [2.1, 1.8, 2.1, 1.8, 2.1, 2.1],
    L: { left: 44, width: 448, top: 13, h: 114, lgLeft: 42, lgFont: 20.5, lgLine: 26, lgPad: [3, 4, 3, 3], lgIcon: 47, lblFont: 21, dot: 10, yc: false } },
  { spectra: [specB1, specB2, specB3, specB4, specB5, specB6], labels: labelsB,
    dots: [null, dotsB2, dotsB3, dotsB4, dotsB5, dotsB6], tris: [],
    lw: [1.4, 1.3, 1.3, 1.3, 1.3, 1.3],
    L: { left: 557, width: 419, top: 16, h: 114, lgLeft: 557, lgFont: 17, lgLine: 20, lgPad: [2, 3, 2, 3], lgIcon: 37, lblFont: 17, dot: 10, yc: false } },
  { spectra: [specC1, specC2, specC3], labels: labelsC,
    dots: [dotsC1, dotsC2, dotsC3], tris: [null, null, trianglesC3],
    lw: [1.9, 1.9, 1.9],
    L: { left: 1016, width: 447, top: 14, h: 228, lgLeft: 1015, lgFont: 22.5, lgLine: 26, lgPad: [3, 4, 3, 3], lgIcon: 50, lblFont: 22, dot: 10, yc: true } }
];

function richText(label) {
  return label.split(/(_\d)/).filter(Boolean)
    .map(t => t[0] === '_' ? '{s|' + t.slice(1) + '}' : '{n|' + t + '}').join('');
}
function xAxisCfg(g, pos, labels) {
  return { gridIndex: g, type: 'value', position: pos,
    min: FIELD_TICKS[0], max: FIELD_TICKS[FIELD_TICKS.length - 1], interval: FIELD_TICKS[1] - FIELD_TICKS[0],
    axisLine: { show: false, onZero: false }, splitLine: { show: false }, minorSplitLine: { show: false },
    axisTick: { show: true, inside: true, length: 7, lineStyle: { color: '#000', width: 1.5 } },
    minorTick: { show: true, splitNumber: 2, length: 3.5, lineStyle: { color: '#000', width: 1.2 } },
    axisLabel: { show: labels, showMinLabel: true, showMaxLabel: true, fontSize: 18, color: '#000',
      fontFamily: FONT, margin: 9, formatter: v => String(v) } };
}
function yAxisAB(g, pos) {
  return { gridIndex: g, type: 'value', position: pos, min: 0, max: 8, interval: 2,
    axisLine: { show: false, onZero: false }, splitLine: { show: false }, axisLabel: { show: false },
    axisTick: { show: true, inside: true, length: 8, lineStyle: { color: '#000', width: 1.5 } },
    minorTick: { show: true, splitNumber: 2, length: 5, lineStyle: { color: '#000', width: 1.2 } } };
}
function yAxisC(g, pos, vals, len) {
  return { gridIndex: g, type: 'value', position: pos, min: -3.05, max: 4.65,
    axisLine: { show: false, onZero: false }, splitLine: { show: false }, axisLabel: { show: false },
    axisTick: { show: true, inside: true, length: len, customValues: vals, lineStyle: { color: '#000', width: 1.5 } } };
}

const grids = [], xAxes = [], yAxes = [], series = [], legends = [];
panels.forEach((p, pi) => {
  const L = p.L;
  p.spectra.forEach((data, i) => {
    const g = grids.length;
    const top = L.top + i * L.h;
    const last = i === p.spectra.length - 1;
    grids.push({ left: L.left, top: top, width: L.width, height: L.h, show: true,
      borderColor: '#000', borderWidth: 1.5, backgroundColor: 'rgba(0,0,0,0)' });
    const xi = xAxes.length;
    xAxes.push(xAxisCfg(g, 'bottom', last));
    if (i === 0) xAxes.push(xAxisCfg(g, 'top', false));
    const yi = yAxes.length;
    if (L.yc) {
      yAxes.push(yAxisC(g, 'left', [-2, 0, 2, 4], 8), yAxisC(g, 'left', [-3, -1, 1, 3], 5),
                 yAxisC(g, 'right', [-2, 0, 2, 4], 8), yAxisC(g, 'right', [-3, -1, 1, 3], 5));
    } else {
      yAxes.push(yAxisAB(g, 'left'), yAxisAB(g, 'right'));
    }
    const name = 'p' + pi + 's' + i;
    series.push({ type: 'line', name: name, xAxisIndex: xi, yAxisIndex: yi, data: data,
      symbol: 'none', showSymbol: false, animation: false, silent: true,
      lineStyle: { color: '#000', width: p.lw[i], join: 'miter' }, itemStyle: { color: '#000' }, z: 3 });
    const dots = p.dots[i];
    if (dots) {
      series.push({ type: 'scatter', xAxisIndex: xi, yAxisIndex: yi, symbol: 'circle', symbolSize: L.dot,
        animation: false, silent: true, itemStyle: { color: '#000', opacity: 1 }, z: 5,
        label: { show: true, position: 'right', distance: 2, fontSize: L.lblFont, fontFamily: FONT, color: '#000' },
        data: dots.map(d => ({ value: [d[0], d[1]], label: { show: !!d[2], formatter: d[2] || ' ', color: '#000' } })) });
    }
    const tris = p.tris[i];
    if (tris) {
      series.push({ type: 'scatter', xAxisIndex: xi, yAxisIndex: yi, symbol: 'triangle', symbolSize: [12, 10],
        animation: false, silent: true, itemStyle: { color: '#000', opacity: 1 }, z: 5,
        data: tris.map(d => [d[0], d[1]]) });
    }
    const lbl = p.labels[i];
    legends.push({ left: L.lgLeft, top: top, orient: 'horizontal', selectedMode: false,
      data: [{ name: name, icon: 'rect' }], itemWidth: L.lgIcon, itemHeight: 2, itemGap: 0,
      padding: L.lgPad, backgroundColor: '#fff', borderColor: '#8c8c8c', borderWidth: 1,
      formatter: () => richText(lbl),
      textStyle: { color: '#000', fontFamily: FONT, fontSize: L.lgFont,
        rich: { n: { fontSize: L.lgFont, lineHeight: L.lgLine, fontFamily: FONT, color: '#000' },
                s: { fontSize: Math.round(L.lgFont * 0.65), lineHeight: 10, verticalAlign: 'bottom', fontFamily: FONT, color: '#000' } } } });
  });
});

const grayLine = (x1, y1, x2, y2) => ({ type: 'line', shape: { x1, y1, x2, y2 }, style: { stroke: '#d6d6d6', lineWidth: 1 }, silent: true, z: 1 });
const graphic = [
  grayLine(8, 3.5, 516, 3.5), grayLine(8, 731.5, 516, 731.5), grayLine(515.5, 3.5, 515.5, 731.5),
  grayLine(533.5, 5.5, 1000, 5.5), grayLine(533.5, 5.5, 533.5, 733.5), grayLine(533.5, 733.5, 1000, 733.5),
  grayLine(1000, 5.5, 1486, 5.5), grayLine(1000, 734.5, 1486, 734.5),
  { type: 'rect', shape: { x: 995.5, y: 704, width: 4, height: 24 }, style: { fill: '#fff' }, z: 100, silent: true },
  { type: 'text', x: 467, y: 35, z: 100, style: { text: panelLetters[0], font: '36px "Liberation Sans", Arial, sans-serif', fill: '#000', textAlign: 'center', textVerticalAlign: 'middle' } },
  { type: 'text', x: 954, y: 38, z: 100, style: { text: panelLetters[1], font: '38px "Liberation Sans", Arial, sans-serif', fill: '#000', textAlign: 'center', textVerticalAlign: 'middle' } },
  { type: 'text', x: 1440, y: 37, z: 100, style: { text: panelLetters[2], font: 'bold 30px "Liberation Sans", Arial, sans-serif', fill: '#000', textAlign: 'center', textVerticalAlign: 'middle' } },
  { type: 'text', x: 777, y: 752, z: 100, style: { text: xTitle, font: '25px "Open Sans", "Noto Sans", sans-serif', fill: '#111', textAlign: 'center', textVerticalAlign: 'middle' } },
  { type: 'text', x: 23, y: 348, rotation: Math.PI / 2, z: 100, style: { text: yTitle, font: '28px "Liberation Sans", Arial, sans-serif', fill: '#000', textAlign: 'center', textVerticalAlign: 'middle' } }
];

const chart = echarts.init(document.getElementById('chart'), null, { renderer: 'canvas' });
chart.setOption({
  animation: false, backgroundColor: '#fff',
  grid: grids, xAxis: xAxes, yAxis: yAxes, series: series, legend: legends, graphic: graphic
});
</script></body></html>
